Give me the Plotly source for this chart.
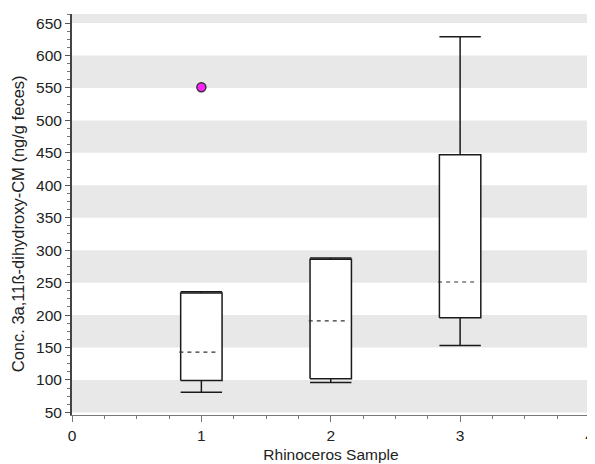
import plotly.graph_objects as go

# ---- data ----
samples = [1, 2, 3]
lower_whisker = [81, 96, 153]
q1 = [99, 102, 196]
median = [143, 191, 251]
q3 = [234, 286, 447]
upper_whisker = [236, 288, 629]
outlier_x = [1]
outlier_y = [551]

x_ticks = [0, 1, 2, 3, 4]
y_ticks = [50, 100, 150, 200, 250, 300, 350, 400, 450, 500, 550, 600, 650]
y_title = "Conc. 3a,11ß-dihydroxy-CM (ng/g feces)"
x_title = "Rhinoceros Sample"

BOX_HALF = 0.16
LINE_COLOR = "#1a1a1a"
FONT = "Liberation Sans, Arial, sans-serif"
FS = 15.5

fig = go.Figure()

for i, c in enumerate(samples):
    xl, xr = c - BOX_HALF, c + BOX_HALF
    # whiskers + caps
    fig.add_trace(go.Scatter(
        x=[c, c, None, c, c, None, xl, xr, None, xl, xr],
        y=[q3[i], upper_whisker[i], None, q1[i], lower_whisker[i], None,
           upper_whisker[i], upper_whisker[i], None, lower_whisker[i], lower_whisker[i]],
        mode="lines", line=dict(color=LINE_COLOR, width=1.5),
        hoverinfo="skip", showlegend=False))
    # box
    fig.add_trace(go.Scatter(
        x=[xl, xr, xr, xl, xl],
        y=[q1[i], q1[i], q3[i], q3[i], q1[i]],
        mode="lines", fill="toself", fillcolor="white",
        line=dict(color=LINE_COLOR, width=1.5),
        hoverinfo="skip", showlegend=False))
    # dashed median
    fig.add_trace(go.Scatter(
        x=[xl - 0.01, xr - 0.02], y=[median[i], median[i]],
        mode="lines", line=dict(color="#333333", width=1.2, dash="4px,4px"),
        hoverinfo="skip", showlegend=False))

fig.add_trace(go.Scatter(
    x=outlier_x, y=outlier_y, mode="markers",
    marker=dict(color="#ff22ff", size=9, line=dict(color="#333333", width=1.5)),
    showlegend=False))

# alternating horizontal bands
shapes = []
for k in range(0, len(y_ticks), 2):
    y0 = y_ticks[k]
    shapes.append(dict(type="rect", xref="paper", yref="y", x0=0, x1=1,
                       y0=y0, y1=y0 + 50, fillcolor="#e8e8e8",
                       line=dict(width=0), layer="below"))

# page body adds an 8px offset; margins compensate for it
fig.update_layout(
    width=595, height=464,
    margin=dict(l=64, r=13, t=6, b=57, autoexpand=False),
    paper_bgcolor="white", plot_bgcolor="white",
    font=dict(family=FONT, size=FS, color="#222222"),
    shapes=shapes,
    showlegend=False,
    annotations=[dict(text=y_title, textangle=-90, xref="paper", yref="paper",
                      x=-0.104, y=0.476, xanchor="center", yanchor="middle",
                      showarrow=False, font=dict(size=16.5, color="#222222"))],
)

fig.update_xaxes(
    automargin=False,
    range=[0, 4.004], tickvals=x_ticks, ticktext=[str(v) for v in x_ticks],
    ticklabeloverflow="allow",
    showgrid=False, zeroline=False,
    showline=True, linecolor="#777777", linewidth=1,
    ticks="outside", ticklen=6, tickcolor="#777777", tickwidth=1,
    minor=dict(dtick=0.25, tick0=0, ticks="outside", ticklen=3, tickcolor="#777777"),
    title=dict(text=x_title, font=dict(size=FS), standoff=6),
    tickfont=dict(size=FS),
)

fig.update_yaxes(
    automargin=False,
    range=[46, 664], tickvals=y_ticks, ticktext=[str(v) for v in y_ticks],
    showgrid=False, zeroline=False,
    showline=True, linecolor="#444444", linewidth=2,
    ticks="outside", ticklen=5, tickcolor="#555555", tickwidth=1,
    minor=dict(dtick=12.5, tick0=50, ticks="outside", ticklen=3, tickcolor="#777777"),
    tickfont=dict(size=FS),
)

fig.write_html("out.html")
